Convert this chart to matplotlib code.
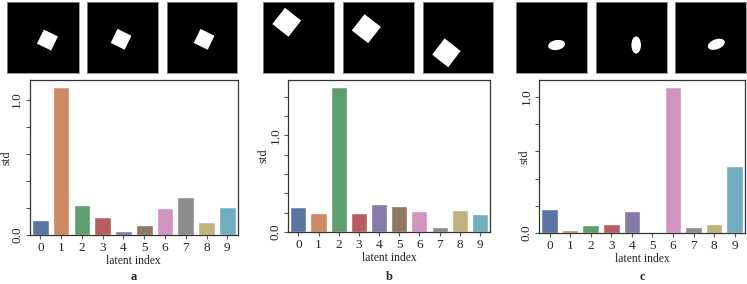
import numpy as np
import matplotlib
matplotlib.use('Agg')
import matplotlib.pyplot as plt
import matplotlib.patches as mpatches
import seaborn as sns

# std of each latent unit, panels a, b, c
latent = list(range(10))
std_a = [0.112, 1.092, 0.223, 0.134, 0.030, 0.074, 0.201, 0.280, 0.097, 0.206]
std_b = [0.260, 0.201, 1.503, 0.194, 0.288, 0.271, 0.222, 0.049, 0.229, 0.191]
std_c = [0.176, 0.020, 0.057, 0.064, 0.163, 0.001, 1.074, 0.042, 0.064, 0.490]
panel_names = ['a', 'b', 'c']

# sample images: (shape, cx, cy, w, h, angle) in image fractions
imgs_a = [('square', 0.56, 0.54, 0.22, 0.22, 26),
          ('square', 0.48, 0.53, 0.22, 0.22, 26),
          ('square', 0.53, 0.53, 0.22, 0.22, 26)]
imgs_b = [('square', 0.33, 0.29, 0.29, 0.29, 38),
          ('square', 0.33, 0.38, 0.29, 0.29, 38),
          ('square', 0.33, 0.72, 0.29, 0.29, 38)]
imgs_c = [('ellipse', 0.57, 0.61, 0.24, 0.14, -10),
          ('ellipse', 0.57, 0.61, 0.135, 0.24, 0),
          ('ellipse', 0.58, 0.60, 0.25, 0.14, -20)]

sns.set_style('ticks')
plt.rcParams['font.family'] = 'serif'
plt.rcParams['font.serif'] = ['Liberation Serif', 'DejaVu Serif']
plt.rcParams['font.size'] = 8.2

W, H = 747, 284
fig = plt.figure(figsize=(W / 100, H / 100), dpi=100)


def px_axes(x0, y0, x1, y1):
    return fig.add_axes([x0 / W, 1 - y1 / H, (x1 - x0) / W, (y1 - y0) / H])


bar_boxes = [(30, 80, 237.7, 235), (288.3, 79.7, 490, 232),
             (539.3, 79.7, 745, 233)]
# distance (px) of the "std" label centre left of each axis
ylab_off = [24, 25, 15]
img_x = [[(7.3, 79), (87.3, 157.7), (166.7, 237.3)],
         [(263.3, 334.3), (342.7, 414.3), (423.3, 493.3)],
         [(516, 587.3), (595.7, 666.7), (675.3, 746)]]

palette = sns.color_palette('deep', 10)

for k, (vals, imgs) in enumerate(zip([std_a, std_b, std_c],
                                     [imgs_a, imgs_b, imgs_c])):
    # top row of sample images
    for (x0, x1), (shape, cx, cy, w, h, ang) in zip(img_x[k], imgs):
        iax = px_axes(x0, 1.7, x1, 72.7)
        iax.set_facecolor('black')
        iax.set_xlim(0, 1)
        iax.set_ylim(1, 0)
        iax.set_xticks([])
        iax.set_yticks([])
        for sp in iax.spines.values():
            sp.set_color('0.55')
            sp.set_linewidth(0.6)
        if shape == 'square':
            p = mpatches.Rectangle((cx - w / 2, cy - h / 2), w, h, angle=ang,
                                   rotation_point='center', fc='white',
                                   ec='none')
        else:
            p = mpatches.Ellipse((cx, cy), w, h, angle=ang, fc='white',
                                 ec='none')
        iax.add_patch(p)

    # bar chart
    ax = px_axes(*bar_boxes[k])
    sns.barplot(x=latent, y=vals, hue=latent, palette=palette, legend=False,
                saturation=0.75, ax=ax)
    ymax = ax.get_ylim()[1]
    ticks = np.arange(0, ymax, 0.2)
    ax.set_yticks(ticks)
    ax.set_yticklabels(['{:.1f}'.format(t) if abs(t - round(t)) < 1e-6
                        else '' for t in ticks],
                       rotation=90, va='center')
    ax.tick_params(length=3, width=0.8, color='0.35', pad=2, labelsize=9.5)
    for sp in ax.spines.values():
        sp.set_linewidth(0.9)
        sp.set_color('0.2')
    ax.set_xlabel('latent index', labelpad=0.5, fontsize=8.4)
    ax.set_ylabel('std', fontsize=9, va='center')
    axw = bar_boxes[k][2] - bar_boxes[k][0]
    ax.yaxis.set_label_coords(-ylab_off[k] / axw, 0.5)
    cx = (bar_boxes[k][0] + bar_boxes[k][2]) / 2
    fig.text(cx / W, 1 - 276.7 / H, panel_names[k], ha='center', va='center',
             fontweight='bold', fontsize=9)

plt.savefig('out.png', dpi=100)
